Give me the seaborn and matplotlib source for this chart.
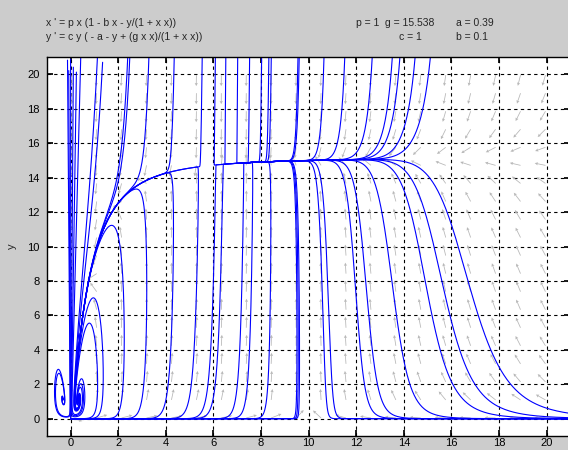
import numpy as np
import pandas as pd
import matplotlib
matplotlib.use('Agg')
import matplotlib.pyplot as plt
import seaborn as sns

# model parameters shown in the chart header
p = 1.0
g = 15.538
a = 0.39
c = 1.0
b = 0.1

# initial points that were clicked
upper_x = [-0.07, 0.22, 1.23, 2.28, 2.37, 3.2, 4.3, 5.5, 6.06, 6.5, 7.0, 7.5,
           8.0, 8.3, 8.4, 9.5, 9.55, 10.56, 11.4, 12.5, 13.3, 13.6, 14.2, 14.8]
upper_y = [18.0] * len(upper_x)
lower_x = [0.05, 0.18, 0.47, 2.2, 3.2, 4.3, 5.3, 6.0, 6.3, 7.2, 7.6, 8.4,
           9.5, 9.55, 9.6, 10.56, 10.8, 11.95, 12.4, 13.5, 14.9, 15.6, 16.7]
lower_y = [8.0] * len(lower_x)
extra_x = [1.0, 0.85, -0.45]
extra_y = [7.0, 5.5, 2.6]

x_ticks = list(range(0, 21, 2))
y_ticks = list(range(0, 21, 2))


def rates(x, y):
    r = 1.0 + x * x
    return p * x * (1 - b * x - y / r), c * y * (-a - y + g * x * x / r)


def integrate(x0, y0, sign, t_end, h=0.002, keep=2):
    '''RK4 in the given time direction, stop each curve once it leaves the window.'''
    x = np.array(x0, float)
    y = np.array(y0, float)
    hs = sign * h
    out_x, out_y = [x.copy()], [y.copy()]
    with np.errstate(all='ignore'):
        for i in range(int(t_end / h)):
            k1 = rates(x, y)
            k2 = rates(x + hs / 2 * k1[0], y + hs / 2 * k1[1])
            k3 = rates(x + hs / 2 * k2[0], y + hs / 2 * k2[1])
            k4 = rates(x + hs * k3[0], y + hs * k3[1])
            x = x + hs / 6 * (k1[0] + 2 * k2[0] + 2 * k3[0] + k4[0])
            y = y + hs / 6 * (k1[1] + 2 * k2[1] + 2 * k3[1] + k4[1])
            gone = (x < -1.6) | (x > 21.6) | (y < -1.6) | (y > 21.6) | ~np.isfinite(x) | ~np.isfinite(y)
            x[gone] = np.nan
            y[gone] = np.nan
            if i % keep == 0:
                out_x.append(x.copy())
                out_y.append(y.copy())
    return np.array(out_x), np.array(out_y)


x0 = upper_x + lower_x + extra_x
y0 = upper_y + lower_y + extra_y
fx, fy = integrate(x0, y0, 1, 40)
bx, by = integrate(x0, y0, -1, 20)

frames = []
for j in range(len(x0)):
    xs = np.concatenate([bx[::-1, j], fx[1:, j]])
    ys = np.concatenate([by[::-1, j], fy[1:, j]])
    ok = np.isfinite(xs) & np.isfinite(ys)
    frames.append(pd.DataFrame({'x': xs[ok], 'y': ys[ok], 'traj': j}))
traj = pd.concat(frames, ignore_index=True)

sns.set_theme(style='white')
plt.rcParams['font.family'] = ['Liberation Sans', 'DejaVu Sans']

fig = plt.figure(figsize=(5.68, 4.5), dpi=100)
fig.patch.set_facecolor('#cccccc')
ax = fig.add_axes([0.0824, 0.0311, 0.9218, 0.842])
ax.set_facecolor('white')

# direction field, arrows of fixed screen length
px_x = 523.6 / 22
px_y = 379.0 / 22
gx, gy = np.meshgrid(np.linspace(-1, 21, 22)[1:-1], np.linspace(-1, 21, 22)[1:-1])
du, dv = rates(gx, gy)
u = du * px_x
v = dv * px_y
n = np.hypot(u, v)
n[n == 0] = 1
ax.quiver(gx, gy, u / n, v / n, angles='uv', pivot='tail', scale_units='dots',
          scale=1 / 11.0, units='dots', width=0.8, headwidth=4, headlength=4,
          headaxislength=3.5, color='#b8b8b8', zorder=1)

sns.lineplot(data=traj, x='x', y='y', units='traj', estimator=None, sort=False,
             color='#0000ff', lw=0.8, ax=ax, zorder=2, legend=False)

ax.set_xlim(-1, 21)
ax.set_ylim(-1, 21)
ax.set_xticks(x_ticks)
ax.set_yticks(y_ticks)
ax.grid(True, color='black', linestyle=(0, (3, 3)), lw=0.8)
ax.set_axisbelow(True)
ax.tick_params(direction='in', length=4, labelsize=8, colors='black',
               top=True, right=True, bottom=True, left=True)
ax.tick_params(axis='x', pad=1.5)
ax.tick_params(axis='y', pad=5)
for s in ax.spines.values():
    s.set_color('black')
    s.set_linewidth(1.0)
ax.set_xlabel('')
ax.set_ylabel('y', fontsize=8)
ax.yaxis.set_label_coords(-0.057, 0.5)

fs = 7.5
fig.text(46 / 568, 1 - 23 / 450, "x ' = p x (1 - b x - y/(1 + x x))", fontsize=fs, va='center')
fig.text(46 / 568, 1 - 37 / 450, "y ' = c y ( - a - y + (g x x)/(1 + x x))", fontsize=fs, va='center')
fig.text(356 / 568, 1 - 23 / 450, "p = 1", fontsize=fs, va='center')
fig.text(385 / 568, 1 - 23 / 450, "g = 15.538", fontsize=fs, va='center')
fig.text(456 / 568, 1 - 23 / 450, "a = 0.39", fontsize=fs, va='center')
fig.text(399 / 568, 1 - 37 / 450, "c = 1", fontsize=fs, va='center')
fig.text(456 / 568, 1 - 37 / 450, "b = 0.1", fontsize=fs, va='center')

fig.savefig('out.png', dpi=100, facecolor=fig.get_facecolor())
